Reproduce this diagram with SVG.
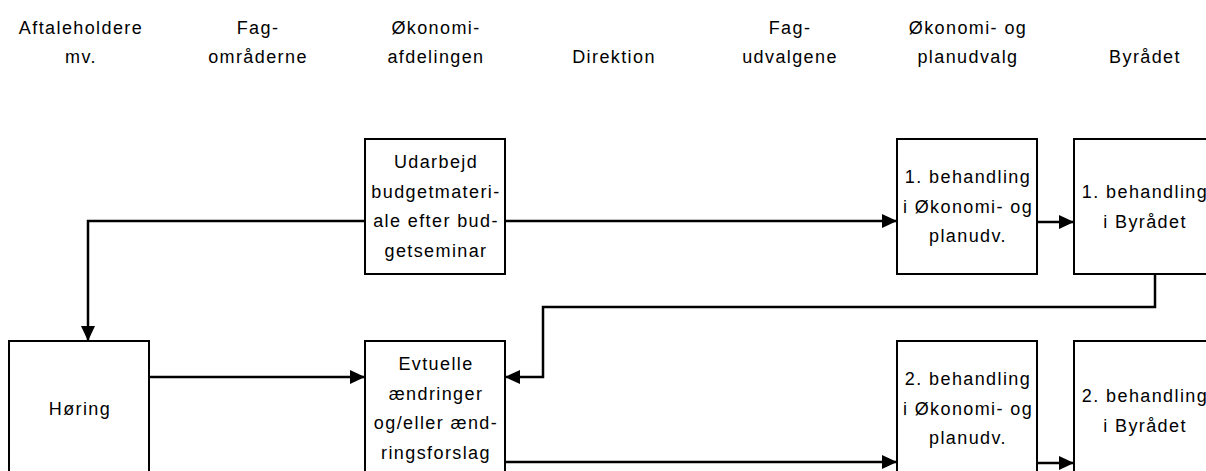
<svg xmlns="http://www.w3.org/2000/svg" width="1206" height="471" viewBox="0 0 1206 471">
<style>
text{font-family:"Liberation Sans",Arial,sans-serif;font-size:18px;letter-spacing:1.4px;fill:#000;text-anchor:middle}
.box{fill:#fff;stroke:#000;stroke-width:2}
.ln{fill:none;stroke:#000;stroke-width:2.5}
</style>
<defs>
<marker id="ah" markerWidth="16" markerHeight="16" viewBox="0 0 16 16" refX="15" refY="8" orient="auto" markerUnits="userSpaceOnUse">
<path d="M0,1 L15,8 L0,15 Z" fill="#000"/>
</marker>
</defs>
<g id="headers">
<text x="81" y="34">Aftaleholdere</text><text x="81" y="63">mv.</text>
<text x="258" y="34">Fag-</text><text x="258" y="63">områderne</text>
<text x="436" y="34">Økonomi-</text><text x="436" y="63">afdelingen</text>
<text x="614" y="63">Direktion</text>
<text x="790" y="34">Fag-</text><text x="790" y="63">udvalgene</text>
<text x="968" y="34">Økonomi- og</text><text x="968" y="63">planudvalg</text>
<text x="1145" y="63">Byrådet</text>
</g>
<g id="connectors">
<path class="ln" d="M505,221 H897" marker-end="url(#ah)"/>
<path class="ln" d="M1037,222 H1074" marker-end="url(#ah)"/>
<path class="ln" d="M365,221 H88 V341" marker-end="url(#ah)"/>
<path class="ln" d="M1155,274 V307 H543 V377 H505" marker-end="url(#ah)"/>
<path class="ln" d="M149,377 H365" marker-end="url(#ah)"/>
<path class="ln" d="M505,462 H897" marker-end="url(#ah)"/>
<path class="ln" d="M1037,463 H1074" marker-end="url(#ah)"/>
</g>
<g id="udarbejd">
<rect class="box" x="365" y="139" width="140" height="135"/>
<text x="436" y="168">Udarbejd</text>
<text x="436" y="197.5">budgetmateri-</text>
<text x="436" y="227">ale efter bud-</text>
<text x="436" y="256.5">getseminar</text>
</g>
<g id="beh1-oek">
<rect class="box" x="897" y="139" width="140" height="135"/>
<text x="968" y="183">1. behandling</text>
<text x="968" y="212.5">i Økonomi- og</text>
<text x="968" y="242">planudv.</text>
</g>
<g id="beh1-byraad">
<rect class="box" x="1074" y="139" width="140" height="135"/>
<text x="1145" y="198">1. behandling</text>
<text x="1145" y="227.5">i Byrådet</text>
</g>
<g id="hoering">
<rect class="box" x="9" y="341" width="140" height="140"/>
<text x="80" y="415">Høring</text>
</g>
<g id="evtuelle">
<rect class="box" x="365" y="341" width="140" height="140"/>
<text x="436" y="370">Evtuelle</text>
<text x="436" y="399.5">ændringer</text>
<text x="436" y="429">og/eller ænd-</text>
<text x="436" y="458.5">ringsforslag</text>
</g>
<g id="beh2-oek">
<rect class="box" x="897" y="341" width="140" height="140"/>
<text x="968" y="385">2. behandling</text>
<text x="968" y="414.5">i Økonomi- og</text>
<text x="968" y="444">planudv.</text>
</g>
<g id="beh2-byraad">
<rect class="box" x="1074" y="341" width="140" height="140"/>
<text x="1145" y="402">2. behandling</text>
<text x="1145" y="431.5">i Byrådet</text>
</g>
</svg>
